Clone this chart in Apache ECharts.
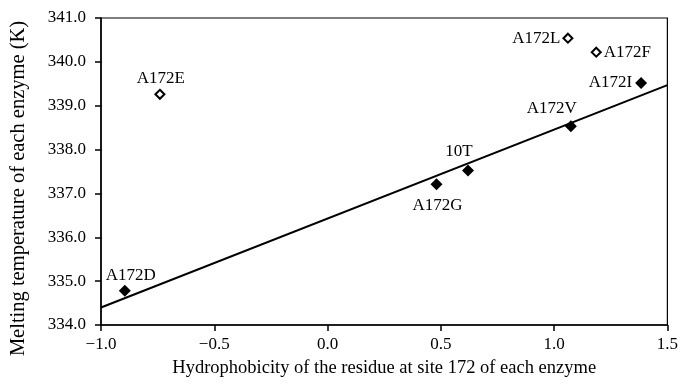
<!DOCTYPE html>
<html>
<head>
<meta charset="utf-8">
<script src="https://cdn.jsdelivr.net/npm/echarts@6/dist/echarts.min.js"></script>
<style>html,body{margin:0;padding:0;background:#fff;}#c{width:681px;height:385px;}</style>
</head>
<body>
<div id="c"></div>
<script>
// Data
var filledNames = ['A172D', 'A172G', '10T', 'A172V', 'A172I'];
var filledX = [-0.895, 0.481, 0.620, 1.074, 1.384];
var filledY = [334.78, 337.21, 337.52, 338.53, 339.52];
var openNames = ['A172E', 'A172L', 'A172F'];
var openX = [-0.74, 1.061, 1.186];
var openY = [339.26, 340.54, 340.22];
var fitX = [-1.0, 1.5];
var fitY = [334.40, 339.47];
var xTicks = [-1.0, -0.5, 0.0, 0.5, 1.0, 1.5];
var yTicks = [334, 335, 336, 337, 338, 339, 340, 341];

var FONT = 'Liberation Serif';
// label placement (style)
var labelPos = {
  'A172D': {position: 'top', distance: 1, offset: [6, 0]},
  'A172G': {position: 'bottom', distance: 7, offset: [1, 0]},
  '10T': {position: 'top', distance: 5, offset: [-9, 0]},
  'A172V': {position: 'top', distance: 3, offset: [-19, 0]},
  'A172I': {position: 'left', distance: 3, offset: [0, 0]},
  'A172E': {position: 'top', distance: 2, offset: [1, 0]},
  'A172L': {position: 'left', distance: 2, offset: [0, 0]},
  'A172F': {position: 'right', distance: 2, offset: [0, 0]}
};
function pts(names, xs, ys) {
  return names.map(function (n, i) {
    var lp = labelPos[n];
    return {name: n, value: [xs[i], ys[i]], label: {position: lp.position, distance: lp.distance, offset: lp.offset}};
  });
}
function fmtX(v) {
  var s = Math.abs(v).toFixed(1);
  return (v < 0 ? '\u2212' : '') + s;
}
var chart = echarts.init(document.getElementById('c'), null, {renderer: 'canvas'});
chart.setOption({
  animation: false,
  backgroundColor: '#fff',
  grid: {left: 96, right: 11, top: 18, bottom: 60, show: true, borderColor: '#000', borderWidth: 1.2, containLabel: false},
  xAxis: {
    type: 'value', min: xTicks[0], max: xTicks[xTicks.length - 1], interval: 0.5,
    name: 'Hydrophobicity of the residue at site 172 of each enzyme',
    nameLocation: 'middle', nameGap: 34,
    nameTextStyle: {fontFamily: FONT, fontSize: 18.5, color: '#000'},
    axisLine: {show: true, onZero: false, lineStyle: {color: '#000', width: 1.5}},
    axisTick: {show: true, inside: false, length: 6, lineStyle: {color: '#000', width: 1.5}},
    axisLabel: {fontFamily: FONT, fontSize: 17, color: '#000', margin: 11, formatter: fmtX},
    splitLine: {show: false}
  },
  yAxis: {
    type: 'value', min: yTicks[0], max: yTicks[yTicks.length - 1], interval: 1,
    name: 'Melting temperature of each enzyme (K)',
    nameLocation: 'middle', nameGap: 72, nameRotate: 90,
    nameTextStyle: {fontFamily: FONT, fontSize: 20.5, color: '#000', padding: [0, 34, 0, 0]},
    axisLine: {show: true, onZero: false, lineStyle: {color: '#000', width: 1.5}},
    axisTick: {show: true, inside: false, length: 6, lineStyle: {color: '#000', width: 1.5}},
    axisLabel: {fontFamily: FONT, fontSize: 17, color: '#000', margin: 15, formatter: function (v) { return v.toFixed(1); }},
    splitLine: {show: false}
  },
  series: [
    {
      type: 'line', data: fitX.map(function (x, i) { return [x, fitY[i]]; }),
      showSymbol: false, symbol: 'none', lineStyle: {color: '#000', width: 2}, z: 2, silent: true
    },
    {
      type: 'scatter', data: pts(filledNames, filledX, filledY),
      symbol: 'diamond', symbolSize: 12, itemStyle: {color: '#000', opacity: 1}, z: 3,
      label: {show: true, formatter: '{b}', fontFamily: FONT, fontSize: 17, color: '#000'}
    },
    {
      type: 'scatter', data: pts(openNames, openX, openY),
      symbol: 'diamond', symbolSize: 9, itemStyle: {color: '#fff', borderColor: '#000', borderWidth: 2, opacity: 1}, z: 3,
      label: {show: true, formatter: '{b}', fontFamily: FONT, fontSize: 17, color: '#000'}
    }
  ]
});
</script>
</body>
</html>
